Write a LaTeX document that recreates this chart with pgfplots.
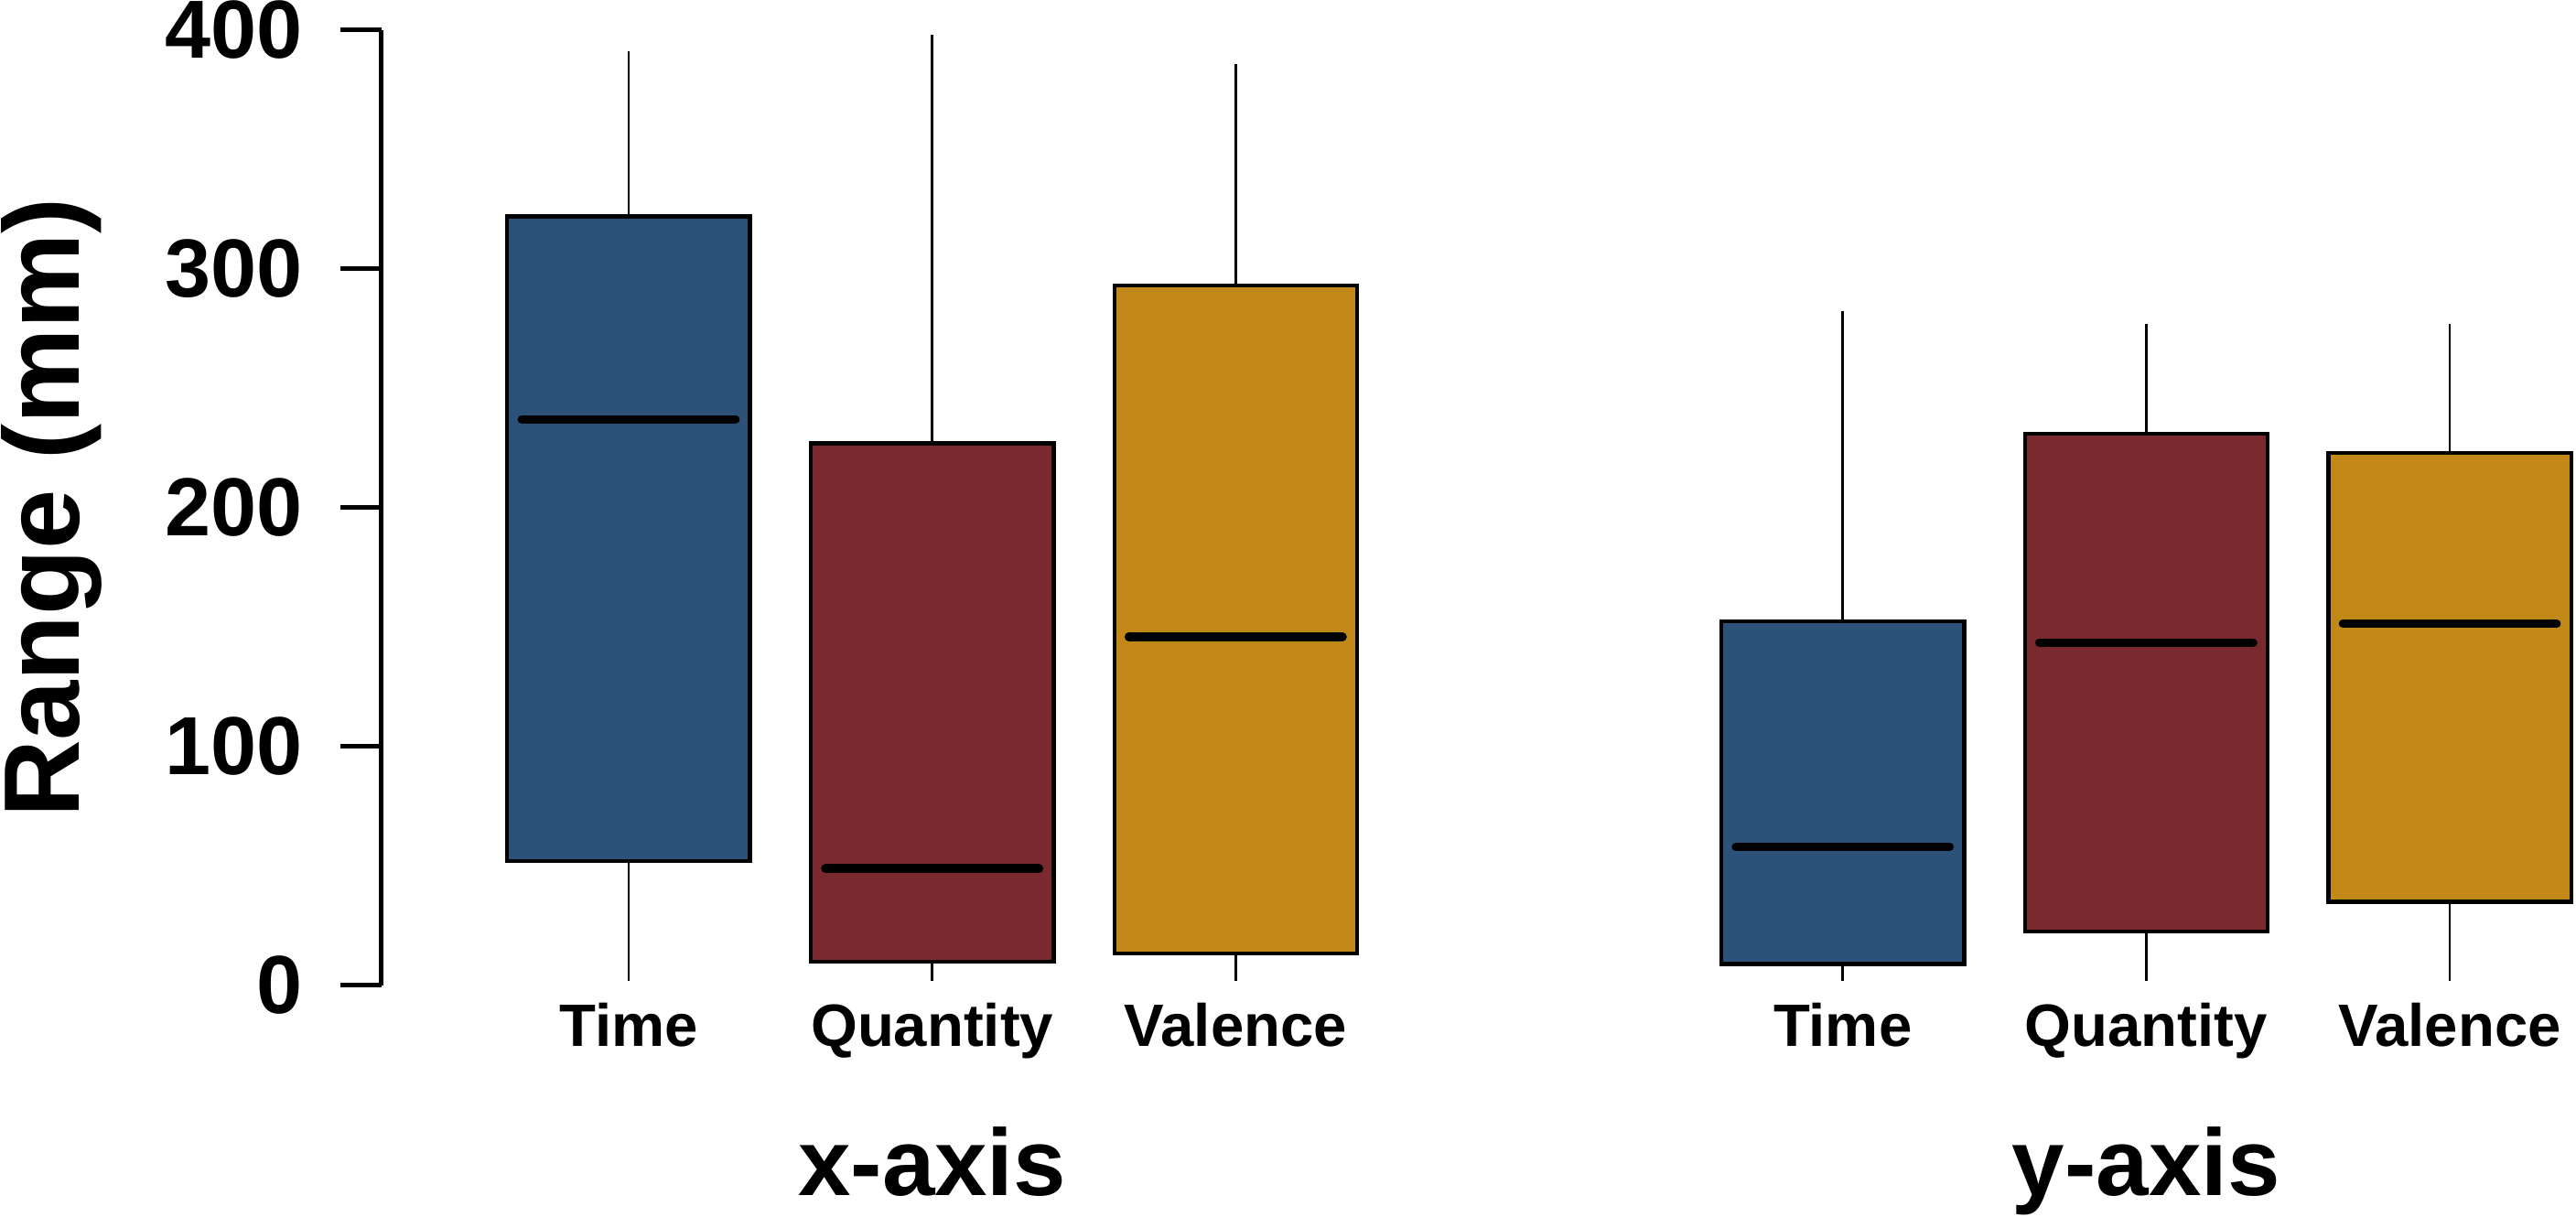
\documentclass[border=0pt]{standalone}
\usepackage{fontspec}
\setmainfont{Liberation Sans}
\usepackage{pgfplots}
\pgfplotsset{compat=1.18}
\definecolor{cblue}{HTML}{2C527A}
\definecolor{cred}{HTML}{7A292E}
\definecolor{cgold}{HTML}{C28918}
\begin{document}
\begin{tikzpicture}
\begin{axis}[
  scale only axis, width=359.7pt, height=156.6pt,
  xmin=0.186, xmax=7.416, ymin=0, ymax=400,
  axis lines*=left,
  x axis line style={draw=none},
  y axis line style={line width=0.75pt, black},
  xtick={1,2,3,5,6,7},
  xticklabels={Time,Quantity,Valence,Time,Quantity,Valence},
  ytick={0,100,200,300,400},
  tick align=outside,
  major tick length=6.75pt,
  ytick style={line width=0.75pt, black},
  xtick style={draw=none},
  /pgf/number format/assume math mode=true,
  yticklabel style={font=\bfseries\fontsize{13.5}{16}\selectfont, anchor=east, inner sep=0pt, xshift=-6pt},
  xticklabel style={font=\bfseries\fontsize{9.8}{12}\selectfont, anchor=north, inner sep=0pt, yshift=4pt},
  ylabel={Range (mm)},
  every axis y label/.style={at={(rel axis cs:0,0.5)}, xshift=-62.55pt, rotate=90, anchor=north, inner sep=0pt, font=\bfseries\fontsize{17.6}{20}\selectfont},
  clip=false,
  whisk/.style={draw=black, line width=0.4pt, mark=none},
  boxs/.style={draw=black, line width=0.65pt, mark=none},
  med/.style={draw=black, line width=1.4pt, line cap=round, mark=none},
]
% ---- x-axis group: Time (pos 1)
\addplot[whisk] coordinates {(1,2) (1,52)};
\addplot[whisk] coordinates {(1,322) (1,391)};
\addplot[boxs, fill=cblue] coordinates {(0.6,52) (1.4,52) (1.4,322) (0.6,322)} --cycle;
\addplot[med] coordinates {(0.648,237) (1.352,237)};
% Quantity (pos 2)
\addplot[whisk] coordinates {(2,2) (2,10)};
\addplot[whisk] coordinates {(2,227) (2,398)};
\addplot[boxs, fill=cred] coordinates {(1.6,10) (2.4,10) (2.4,227) (1.6,227)} --cycle;
\addplot[med] coordinates {(1.648,49) (2.352,49)};
% Valence (pos 3)
\addplot[whisk] coordinates {(3,2) (3,13.5)};
\addplot[whisk] coordinates {(3,293) (3,386)};
\addplot[boxs, fill=cgold] coordinates {(2.6,13.5) (3.4,13.5) (3.4,293) (2.6,293)} --cycle;
\addplot[med] coordinates {(2.648,146) (3.352,146)};
% ---- y-axis group: Time (pos 5)
\addplot[whisk] coordinates {(5,2) (5,9)};
\addplot[whisk] coordinates {(5,152.5) (5,282.5)};
\addplot[boxs, fill=cblue] coordinates {(4.6,9) (5.4,9) (5.4,152.5) (4.6,152.5)} --cycle;
\addplot[med] coordinates {(4.648,58) (5.352,58)};
% Quantity (pos 6)
\addplot[whisk] coordinates {(6,2) (6,22.6)};
\addplot[whisk] coordinates {(6,231) (6,277)};
\addplot[boxs, fill=cred] coordinates {(5.6,22.6) (6.4,22.6) (6.4,231) (5.6,231)} --cycle;
\addplot[med] coordinates {(5.648,143.5) (6.352,143.5)};
% Valence (pos 7)
\addplot[whisk] coordinates {(7,2) (7,35)};
\addplot[whisk] coordinates {(7,223) (7,277)};
\addplot[boxs, fill=cgold] coordinates {(6.6,35) (7.4,35) (7.4,223) (6.6,223)} --cycle;
\addplot[med] coordinates {(6.648,151.5) (7.352,151.5)};
\node[font=\bfseries\fontsize{15.5}{18}\selectfont, anchor=base, inner sep=0pt] at ([yshift=-34.5pt]axis cs:2,0) {x-axis};
\node[font=\bfseries\fontsize{15.5}{18}\selectfont, anchor=base, inner sep=0pt] at ([yshift=-34.5pt]axis cs:6,0) {y-axis};
\end{axis}
\path ([shift={(-62.55pt,-37.95pt)}]current axis.south west) rectangle ([shift={(0pt,4.95pt)}]current axis.north east);
\end{tikzpicture}
\end{document}
